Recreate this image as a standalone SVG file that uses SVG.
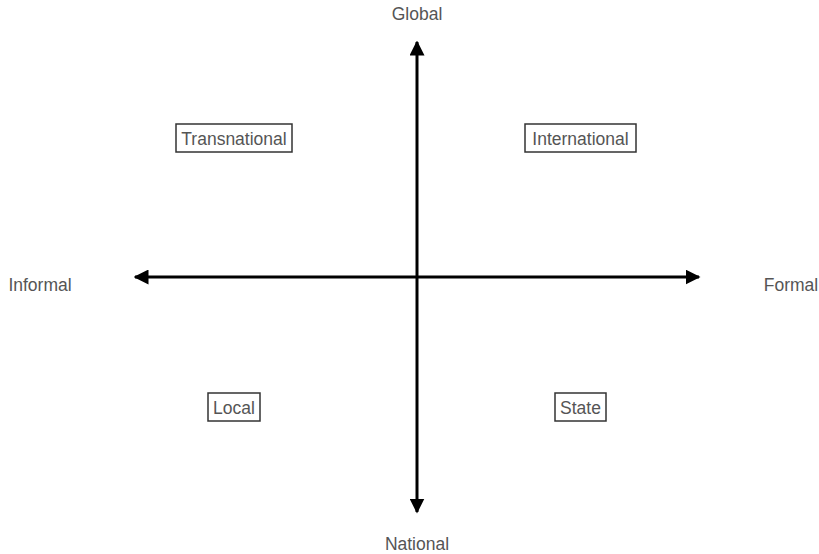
<svg xmlns="http://www.w3.org/2000/svg" width="819" height="554" viewBox="0 0 819 554">
<style>
text{font-family:"Liberation Sans",Arial,sans-serif;font-size:17.5px;fill:#555;text-anchor:middle}
.box{fill:#fff;stroke:#333;stroke-width:1.5}
.axis{stroke:#000;stroke-width:3;fill:none}
</style>
<defs>
<marker id="ah" viewBox="0 0 10 10" refX="9" refY="5" markerWidth="5" markerHeight="5" markerUnits="strokeWidth" orient="auto">
<path d="M0,0 L10,5 L0,10 z" fill="#000"/>
</marker>
</defs>
<g id="connectors">
<line class="axis" x1="417" y1="277" x2="417" y2="42" marker-end="url(#ah)"/>
<line class="axis" x1="417" y1="277" x2="417" y2="512" marker-end="url(#ah)"/>
<line class="axis" x1="417" y1="277" x2="135" y2="277" marker-end="url(#ah)"/>
<line class="axis" x1="417" y1="277" x2="699" y2="277" marker-end="url(#ah)"/>
</g>
<g id="global"><text x="417" y="20">Global</text></g>
<g id="national"><text x="417" y="550">National</text></g>
<g id="informal"><text x="40" y="291">Informal</text></g>
<g id="formal"><text x="791" y="291">Formal</text></g>
<g id="transnational"><rect class="box" x="176" y="124" width="116" height="28"/><text x="234" y="144.5">Transnational</text></g>
<g id="international"><rect class="box" x="525" y="124" width="111" height="28"/><text x="580.5" y="144.5">International</text></g>
<g id="local"><rect class="box" x="208" y="393" width="52" height="28"/><text x="234" y="413.5">Local</text></g>
<g id="state"><rect class="box" x="555" y="393" width="51" height="28"/><text x="580.5" y="413.5">State</text></g>
</svg>
